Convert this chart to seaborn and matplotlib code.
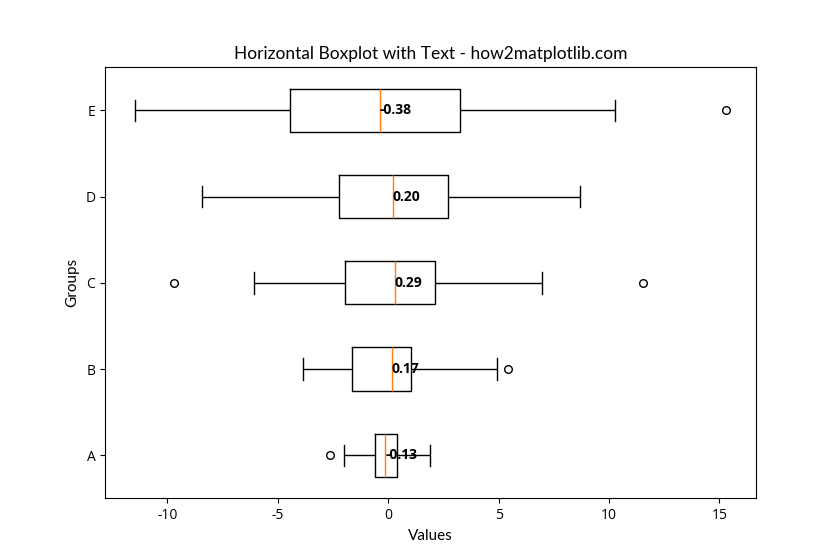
import matplotlib
matplotlib.use("Agg")
import matplotlib.pyplot as plt
import seaborn as sns
import pandas as pd
import numpy as np

plt.rcParams['font.family'] = ['Open Sans', 'DejaVu Sans']
plt.rcParams['axes.unicode_minus'] = False

groups = ['A', 'B', 'C', 'D', 'E']
q1 = [-0.59, -1.64, -1.95, -2.23, -4.45]
medians = [-0.13, 0.17, 0.29, 0.20, -0.38]
q3 = [0.42, 1.05, 2.10, 2.73, 3.26]
whislo = [-2.00, -3.86, -6.10, -8.45, -11.49]
whishi = [1.88, 4.95, 6.95, 8.70, 10.27]
low_fliers = [-2.64, None, -9.70, None, None]
high_fliers = [None, 5.41, 11.55, None, 15.32]

# Build observations whose box statistics reproduce the values above
rows = []
for i, g in enumerate(groups):
    lf = low_fliers[i] if low_fliers[i] is not None else whislo[i]
    hf = high_fliers[i] if high_fliers[i] is not None else whishi[i]
    vals = [lf, whislo[i], q1[i], q1[i], medians[i], q3[i], q3[i], whishi[i], hf]
    for v in vals:
        rows.append({'Group': g, 'Value': v})
df = pd.DataFrame(rows)

order = groups[::-1]

fig, ax = plt.subplots(figsize=(8.4, 5.6), dpi=100)
sns.boxplot(
    data=df, x='Value', y='Group', order=order, orient='h',
    width=0.5, fill=False, color='black', linecolor='black', linewidth=1,
    medianprops={'color': '#ff7f0e', 'linewidth': 1},
    flierprops={'marker': 'o', 'markerfacecolor': 'none',
                'markeredgecolor': 'black', 'markersize': 5.5},
    ax=ax,
)

for i, g in enumerate(groups):
    ax.text(medians[i], order.index(g), f'{medians[i]:.2f}',
            ha='left', va='center', fontweight='bold', fontsize=10)

ax.set_title('Horizontal Boxplot with Text - how2matplotlib.com', fontsize=12.5,
             family=['Lato', 'DejaVu Sans'])
ax.set_xlabel('Values', fontsize=11, family=['Lato', 'DejaVu Sans'])
ax.set_ylabel('Groups', fontsize=11, family=['Lato', 'DejaVu Sans'])

fig.savefig('out.png', dpi=100)
